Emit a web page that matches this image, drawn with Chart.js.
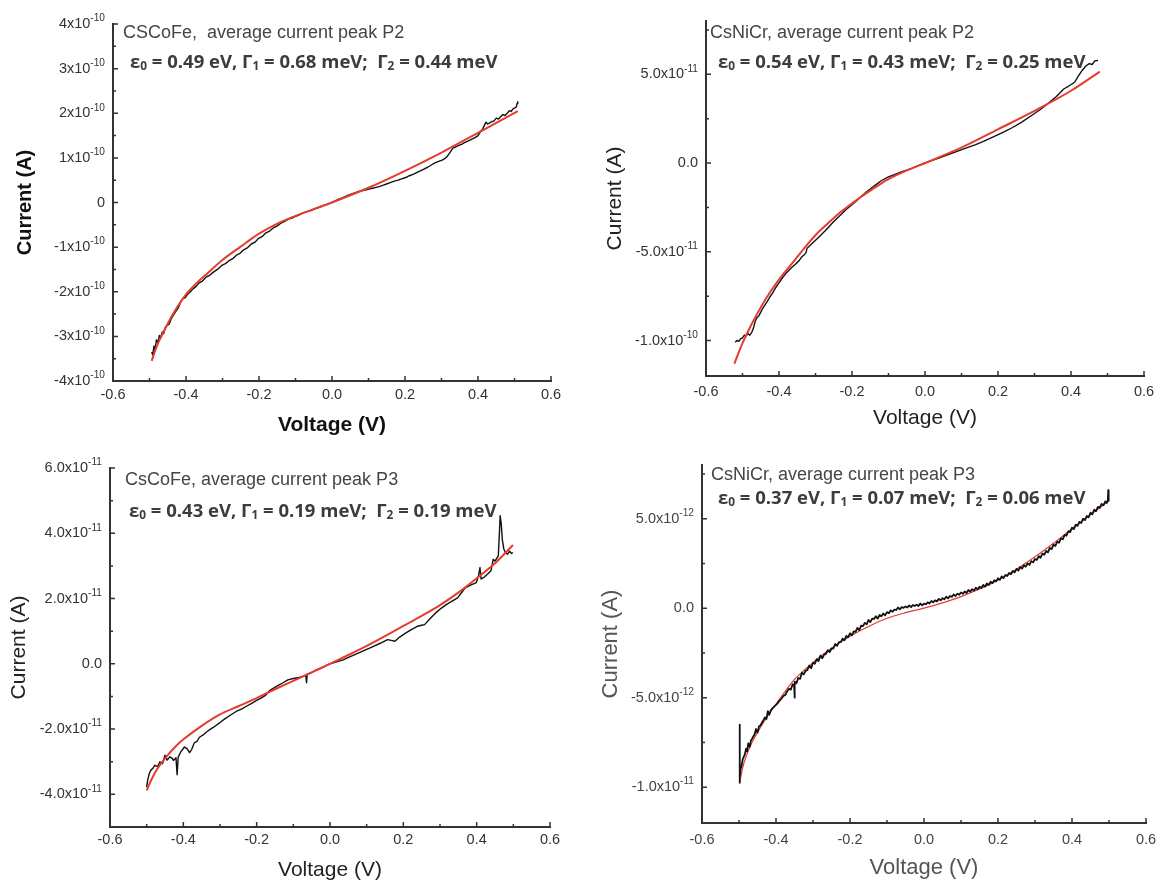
<!DOCTYPE html>
<html>
<head>
<meta charset="utf-8">
<title>Average current peaks - I/V fits</title>
<script src="https://cdn.jsdelivr.net/npm/chart.js@4.4.1/dist/chart.umd.min.js"></script>
<style>
  body { margin: 0; background: #fff; }
  #page { position: relative; width: 1158px; height: 881px; overflow: hidden; background: #fff; }
  .panel { position: absolute; }
</style>
</head>
<body>
<div id="page">
  <div class="panel" style="left:0;top:0;width:579px;height:440px"><canvas id="c1"></canvas></div>
  <div class="panel" style="left:579px;top:0;width:579px;height:440px"><canvas id="c2"></canvas></div>
  <div class="panel" style="left:0;top:440px;width:579px;height:441px"><canvas id="c3"></canvas></div>
  <div class="panel" style="left:579px;top:440px;width:579px;height:441px"><canvas id="c4"></canvas></div>
</div>
<script>
// voltage axis (same on every panel)
const xTicks = [-0.6, -0.4, -0.2, 0, 0.2, 0.4, 0.6];
const xTickLabels = ['-0.6', '-0.4', '-0.2', '0.0', '0.2', '0.4', '0.6'];
const xMinor = [-0.5, -0.3, -0.1, 0.1, 0.3, 0.5];

// ---- panel 1: CsCoFe, peak P2 (current in 1e-10 A) ----
const p1Unit = 1e-10;
const p1Measured = [
  [-0.494,-3.35],[-0.491,-3.42],[-0.488,-3.22],[-0.485,-3.30],[-0.481,-3.08],[-0.477,-3.14],[-0.473,-2.98],[-0.469,-3.02],
  [-0.465,-2.90],[-0.461,-2.94],[-0.457,-2.80],[-0.452,-2.76],[-0.446,-2.72],[-0.440,-2.60],[-0.434,-2.52],[-0.428,-2.44],
  [-0.421,-2.36],[-0.415,-2.24],[-0.409,-2.16],[-0.402,-2.13],[-0.395,-2.05],[-0.388,-2.00],[-0.380,-1.93],[-0.372,-1.88],
  [-0.364,-1.80],[-0.355,-1.76],[-0.346,-1.68],[-0.337,-1.64],[-0.325,-1.56],[-0.314,-1.50],[-0.302,-1.41],[-0.292,-1.37],
  [-0.283,-1.31],[-0.272,-1.26],[-0.262,-1.18],[-0.252,-1.14],[-0.242,-1.06],[-0.231,-1.01],[-0.221,-0.93],[-0.211,-0.89],
  [-0.202,-0.81],[-0.191,-0.76],[-0.181,-0.68],[-0.171,-0.64],[-0.161,-0.57],[-0.151,-0.53],[-0.141,-0.47],[-0.131,-0.43],
  [-0.121,-0.38],[-0.110,-0.35],[-0.100,-0.31],[-0.090,-0.28],[-0.080,-0.24],[-0.070,-0.21],[-0.060,-0.18],[-0.050,-0.15],
  [-0.040,-0.12],[-0.030,-0.09],[-0.020,-0.06],[-0.010,-0.03],[0.000,0.00],[0.010,0.04],[0.020,0.08],[0.030,0.11],
  [0.040,0.15],[0.050,0.18],[0.060,0.21],[0.070,0.24],[0.081,0.26],[0.091,0.28],[0.101,0.30],[0.111,0.32],
  [0.121,0.34],[0.131,0.36],[0.141,0.39],[0.151,0.42],[0.161,0.45],[0.171,0.48],[0.181,0.50],[0.191,0.53],
  [0.202,0.56],[0.212,0.60],[0.222,0.63],[0.232,0.67],[0.242,0.71],[0.252,0.75],[0.262,0.79],[0.272,0.84],
  [0.282,0.89],[0.292,0.92],[0.302,0.95],[0.312,1.00],[0.318,1.06],[0.323,1.12],[0.328,1.18],[0.333,1.23],
  [0.340,1.25],[0.348,1.28],[0.356,1.31],[0.363,1.34],[0.371,1.37],[0.378,1.40],[0.386,1.43],[0.393,1.46],
  [0.400,1.50],[0.404,1.55],[0.408,1.60],[0.413,1.65],[0.418,1.74],[0.422,1.80],[0.426,1.76],[0.431,1.78],
  [0.437,1.81],[0.444,1.83],[0.450,1.89],[0.456,1.87],[0.462,1.92],[0.468,1.97],[0.474,1.95],[0.480,2.00],
  [0.486,2.06],[0.491,2.04],[0.496,2.10],[0.501,2.12],[0.505,2.14],[0.507,2.22],[0.509,2.27]
];
const p1Fit = [
  [-0.494,-3.55],[-0.480,-3.22],[-0.464,-2.94],[-0.444,-2.62],[-0.424,-2.34],[-0.400,-2.06],[-0.370,-1.80],
  [-0.343,-1.60],[-0.302,-1.30],[-0.252,-1.00],[-0.202,-0.71],[-0.151,-0.48],[-0.100,-0.30],[-0.050,-0.15],
  [0.000,0.00],[0.100,0.33],[0.200,0.71],[0.300,1.12],[0.400,1.56],[0.509,2.05]
];
const p1YTicks = [-4e-10, -3e-10, -2e-10, -1e-10, 0, 1e-10, 2e-10, 3e-10, 4e-10];
const p1YLabels = ['-4x10^-10', '-3x10^-10', '-2x10^-10', '-1x10^-10', '0', '1x10^-10', '2x10^-10', '3x10^-10', '4x10^-10'];
const p1YMinor = [-3.5e-10, -2.5e-10, -1.5e-10, -0.5e-10, 0.5e-10, 1.5e-10, 2.5e-10, 3.5e-10];

// ---- panel 2: CsNiCr, peak P2 (current in 1e-11 A) ----
const p2Unit = 1e-11;
const p2Measured = [
  [-0.520,-10.10],[-0.515,-10.00],[-0.510,-10.05],[-0.505,-9.90],[-0.500,-9.85],[-0.495,-9.70],[-0.490,-9.75],[-0.485,-9.60],
  [-0.480,-9.70],[-0.475,-9.56],[-0.470,-9.30],[-0.465,-8.90],[-0.460,-8.70],[-0.455,-8.60],[-0.450,-8.40],[-0.445,-8.20],
  [-0.440,-8.05],[-0.432,-7.80],[-0.425,-7.55],[-0.418,-7.35],[-0.410,-7.05],[-0.400,-6.75],[-0.390,-6.45],[-0.378,-6.15],
  [-0.366,-5.90],[-0.355,-5.70],[-0.345,-5.50],[-0.338,-5.30],[-0.330,-5.15],[-0.326,-5.05],[-0.323,-4.80],[-0.315,-4.65],
  [-0.305,-4.45],[-0.297,-4.30],[-0.285,-4.05],[-0.270,-3.75],[-0.257,-3.45],[-0.245,-3.20],[-0.230,-2.90],[-0.216,-2.62],
  [-0.200,-2.35],[-0.185,-2.08],[-0.175,-1.89],[-0.160,-1.62],[-0.145,-1.38],[-0.135,-1.23],[-0.120,-1.00],[-0.100,-0.78],
  [-0.084,-0.66],[-0.065,-0.50],[-0.050,-0.40],[-0.033,-0.28],[-0.015,-0.12],[0.000,0.00],[0.020,0.15],[0.038,0.28],
  [0.060,0.45],[0.088,0.66],[0.110,0.82],[0.139,1.04],[0.160,1.22],[0.190,1.50],[0.215,1.74],[0.240,2.00],
  [0.265,2.30],[0.290,2.65],[0.315,3.00],[0.340,3.40],[0.360,3.75],[0.380,4.17],[0.395,4.35],[0.410,4.55],
  [0.420,4.90],[0.430,5.20],[0.440,5.45],[0.450,5.60],[0.458,5.55],[0.465,5.75],[0.474,5.78]
];
const p2Fit = [
  [-0.522,-11.30],[-0.510,-10.65],[-0.500,-10.15],[-0.480,-9.28],[-0.460,-8.50],[-0.435,-7.62],[-0.410,-6.85],
  [-0.385,-6.18],[-0.358,-5.50],[-0.330,-4.78],[-0.297,-4.00],[-0.265,-3.38],[-0.236,-2.84],[-0.205,-2.36],
  [-0.175,-1.90],[-0.140,-1.42],[-0.104,-0.95],[-0.050,-0.42],[0.000,0.00],[0.098,0.85],[0.200,1.90],
  [0.300,2.94],[0.400,4.07],[0.479,5.15]
];
const p2YTicks = [-1e-10, -5e-11, 0, 5e-11];
const p2YLabels = ['-1.0x10^-10', '-5.0x10^-11', '0.0', '5.0x10^-11'];
const p2YMinor = [-7.5e-11, -2.5e-11, 2.5e-11, 7.5e-11];

// ---- panel 3: CsCoFe, peak P3 (current in 1e-11 A) ----
const p3Unit = 1e-11;
const p3Measured = [
  [-0.500,-3.78],[-0.497,-3.55],[-0.493,-3.37],[-0.488,-3.25],[-0.483,-3.20],[-0.478,-3.11],[-0.470,-3.15],[-0.464,-3.00],
  [-0.457,-3.06],[-0.450,-2.80],[-0.444,-2.95],[-0.437,-2.85],[-0.430,-2.90],[-0.427,-2.96],[-0.420,-2.88],[-0.417,-3.40],
  [-0.414,-2.86],[-0.407,-2.70],[-0.397,-2.55],[-0.390,-2.60],[-0.383,-2.72],[-0.377,-2.62],[-0.370,-2.42],[-0.363,-2.38],
  [-0.356,-2.25],[-0.346,-2.18],[-0.336,-2.08],[-0.326,-2.00],[-0.316,-1.93],[-0.300,-1.80],[-0.286,-1.68],[-0.270,-1.56],
  [-0.256,-1.46],[-0.240,-1.38],[-0.228,-1.30],[-0.215,-1.22],[-0.200,-1.12],[-0.188,-1.05],[-0.175,-0.96],[-0.165,-0.82],
  [-0.155,-0.75],[-0.140,-0.65],[-0.128,-0.58],[-0.115,-0.49],[-0.100,-0.45],[-0.085,-0.42],[-0.075,-0.39],[-0.066,-0.35],
  [-0.064,-0.58],[-0.062,-0.32],[-0.054,-0.29],[-0.040,-0.20],[-0.024,-0.13],[-0.010,-0.05],[0.000,0.00],[0.018,0.06],
  [0.036,0.12],[0.055,0.22],[0.077,0.33],[0.097,0.43],[0.117,0.53],[0.137,0.63],[0.157,0.74],[0.167,0.72],
  [0.177,0.69],[0.190,0.82],[0.207,0.95],[0.222,1.05],[0.238,1.15],[0.250,1.18],[0.258,1.20],[0.270,1.35],
  [0.288,1.56],[0.303,1.70],[0.318,1.82],[0.333,1.92],[0.348,2.02],[0.360,2.20],[0.369,2.33],[0.385,2.42],
  [0.399,2.49],[0.405,2.70],[0.409,2.95],[0.412,2.60],[0.420,2.65],[0.430,2.75],[0.439,2.85],[0.445,3.20],
  [0.450,3.15],[0.459,3.31],[0.462,4.00],[0.464,4.54],[0.467,4.30],[0.470,3.80],[0.474,3.52],[0.479,3.40],
  [0.484,3.36],[0.490,3.45],[0.495,3.38],[0.499,3.41]
];
const p3Fit = [
  [-0.500,-3.88],[-0.485,-3.50],[-0.470,-3.20],[-0.447,-2.86],[-0.420,-2.52],[-0.397,-2.29],[-0.350,-1.90],
  [-0.300,-1.55],[-0.250,-1.30],[-0.200,-1.05],[-0.150,-0.78],[-0.100,-0.52],[-0.050,-0.26],[0.000,0.00],
  [0.050,0.27],[0.100,0.55],[0.150,0.85],[0.200,1.16],[0.250,1.47],[0.300,1.80],[0.350,2.18],[0.400,2.62],
  [0.450,3.08],[0.499,3.64]
];
const p3YTicks = [-4e-11, -2e-11, 0, 2e-11, 4e-11, 6e-11];
const p3YLabels = ['-4.0x10^-11', '-2.0x10^-11', '0.0', '2.0x10^-11', '4.0x10^-11', '6.0x10^-11'];
const p3YMinor = [-3e-11, -1e-11, 1e-11, 3e-11, 5e-11];

// ---- panel 4: CsNiCr, peak P3 (current in 1e-12 A) ----
const p4Unit = 1e-12;
const p4Measured = [
  [-0.498,-9.80],[-0.498,-6.50],[-0.498,-9.50],[-0.496,-9.00],[-0.493,-8.80],[-0.490,-8.45],[-0.487,-8.30],[-0.484,-8.15],
  [-0.481,-7.85],[-0.478,-8.00],[-0.475,-7.55],[-0.471,-7.75],[-0.468,-7.40],[-0.465,-7.30],[-0.461,-7.15],[-0.458,-7.05],
  [-0.454,-6.75],[-0.450,-6.95],[-0.446,-6.60],[-0.442,-6.55],[-0.438,-6.40],[-0.434,-6.25],[-0.430,-6.10],[-0.426,-6.20],
  [-0.422,-5.75],[-0.418,-5.95],[-0.414,-5.70],[-0.410,-5.60],[-0.405,-5.50],[-0.400,-5.40],[-0.395,-5.30],[-0.390,-5.15],
  [-0.385,-5.05],[-0.380,-4.90],[-0.375,-4.85],[-0.370,-4.65],[-0.365,-4.50],[-0.360,-4.55],[-0.355,-4.25],[-0.351,-4.35],
  [-0.350,-5.00],[-0.349,-4.10],[-0.345,-4.20],[-0.340,-3.90],[-0.335,-3.95],[-0.330,-3.60],[-0.325,-3.70],[-0.320,-3.50],
  [-0.315,-3.45],[-0.310,-3.20],[-0.305,-3.35],[-0.300,-3.05],[-0.295,-3.10],[-0.290,-2.85],[-0.285,-2.95],[-0.280,-2.65],
  [-0.275,-2.80],[-0.270,-2.60],[-0.265,-2.55],[-0.260,-2.35],[-0.255,-2.45],[-0.250,-2.25],[-0.245,-2.25],[-0.240,-2.00],
  [-0.235,-2.10],[-0.230,-1.90],[-0.225,-1.90],[-0.220,-1.70],[-0.215,-1.80],[-0.210,-1.55],[-0.205,-1.62],[-0.200,-1.40],
  [-0.195,-1.52],[-0.190,-1.30],[-0.185,-1.32],[-0.180,-1.10],[-0.175,-1.22],[-0.170,-0.98],[-0.165,-1.00],[-0.160,-0.82],
  [-0.155,-0.90],[-0.150,-0.66],[-0.145,-0.78],[-0.140,-0.58],[-0.135,-0.60],[-0.130,-0.45],[-0.125,-0.58],[-0.120,-0.38],
  [-0.115,-0.45],[-0.110,-0.30],[-0.105,-0.40],[-0.100,-0.22],[-0.095,-0.28],[-0.090,-0.12],[-0.085,-0.20],[-0.080,-0.08],
  [-0.075,-0.10],[-0.070,0.04],[-0.065,-0.06],[-0.060,0.06],[-0.055,0.02],[-0.050,0.10],[-0.045,0.04],[-0.040,0.16],
  [-0.035,0.06],[-0.030,0.18],[-0.025,0.12],[-0.020,0.20],[-0.015,0.12],[-0.010,0.26],[-0.005,0.16],[0.000,0.26],
  [0.005,0.22],[0.010,0.33],[0.015,0.26],[0.020,0.40],[0.025,0.33],[0.030,0.44],[0.035,0.38],[0.040,0.52],
  [0.045,0.44],[0.050,0.56],[0.055,0.50],[0.060,0.64],[0.065,0.55],[0.070,0.68],[0.075,0.63],[0.080,0.77],
  [0.085,0.68],[0.090,0.81],[0.095,0.75],[0.100,0.88],[0.105,0.80],[0.110,0.93],[0.115,0.85],[0.120,1.02],
  [0.125,0.92],[0.130,1.06],[0.135,0.98],[0.140,1.14],[0.145,1.05],[0.150,1.20],[0.155,1.13],[0.160,1.30],
  [0.165,1.20],[0.170,1.38],[0.175,1.30],[0.180,1.48],[0.185,1.40],[0.190,1.56],[0.195,1.50],[0.200,1.67],
  [0.205,1.58],[0.210,1.78],[0.215,1.68],[0.220,1.86],[0.225,1.80],[0.230,1.97],[0.235,1.90],[0.240,2.08],
  [0.245,2.00],[0.250,2.20],[0.255,2.10],[0.260,2.30],[0.265,2.21],[0.270,2.40],[0.275,2.32],[0.280,2.50],
  [0.285,2.42],[0.290,2.63],[0.295,2.56],[0.300,2.75],[0.305,2.70],[0.310,2.90],[0.315,2.82],[0.320,3.05],
  [0.325,2.98],[0.330,3.20],[0.335,3.12],[0.340,3.37],[0.345,3.30],[0.350,3.55],[0.355,3.48],[0.360,3.72],
  [0.365,3.66],[0.370,3.90],[0.375,3.85],[0.380,4.10],[0.385,4.05],[0.390,4.30],[0.395,4.25],[0.400,4.50],
  [0.405,4.42],[0.410,4.66],[0.415,4.60],[0.420,4.82],[0.425,4.76],[0.430,5.00],[0.435,4.92],[0.440,5.15],
  [0.445,5.08],[0.450,5.33],[0.455,5.25],[0.460,5.50],[0.465,5.42],[0.470,5.66],[0.475,5.60],[0.480,5.83],
  [0.485,5.75],[0.490,5.96],[0.494,5.88],[0.497,6.06],[0.498,6.60],[0.499,6.00]
];
const p4Fit = [
  [-0.498,-9.72],[-0.490,-8.90],[-0.480,-8.24],[-0.465,-7.50],[-0.450,-6.94],[-0.430,-6.25],[-0.410,-5.65],
  [-0.380,-4.78],[-0.350,-3.98],[-0.320,-3.40],[-0.280,-2.69],[-0.240,-2.10],[-0.200,-1.57],[-0.150,-1.02],
  [-0.100,-0.56],[-0.050,-0.25],[0.000,0.00],[0.050,0.30],[0.100,0.65],[0.150,1.07],[0.200,1.57],[0.250,2.18],
  [0.300,2.87],[0.350,3.63],[0.400,4.44],[0.450,5.22],[0.500,6.02]
];
const p4YTicks = [-1e-11, -5e-12, 0, 5e-12];
const p4YLabels = ['-1.0x10^-11', '-5.0x10^-12', '0.0', '5.0x10^-12'];
const p4YMinor = [-7.5e-12, -2.5e-12, 2.5e-12, 7.5e-12];

const SANS = '"Liberation Sans", Arial, sans-serif';
const BOLD_TEXT = '"Open Sans", "Noto Sans", sans-serif';
const RED = '#e63b2e';

function toPoints(arr, unit) {
  return arr.map(([v, i]) => ({ x: v, y: i * unit }));
}

// text with "_x" meaning subscript x
function drawRich(ctx, text, x, y, size) {
  let cx = x;
  for (let k = 0; k < text.length; k++) {
    let ch = text[k], sub = false;
    if (ch === '_') { sub = true; ch = text[++k]; }
    const s = sub ? size * 0.64 : size;
    ctx.font = `700 ${s}px ${BOLD_TEXT}`;
    ctx.fillText(ch, cx, sub ? y + size * 0.22 : y);
    cx += ctx.measureText(ch).width;
  }
}

// "4x10^-10" -> base + raised exponent, right aligned
function drawSupLabel(ctx, label, xRight, yMid, size) {
  const [base, exp] = label.split('^');
  const es = size * 0.7;
  ctx.font = `${size}px ${SANS}`;
  const wb = ctx.measureText(base).width;
  let we = 0;
  if (exp) { ctx.font = `${es}px ${SANS}`; we = ctx.measureText(exp).width; }
  const x0 = xRight - wb - we;
  ctx.font = `${size}px ${SANS}`;
  ctx.fillText(base, x0, yMid);
  if (exp) {
    ctx.font = `${es}px ${SANS}`;
    ctx.fillText(exp, x0 + wb, yMid - size * 0.38);
  }
}

// inward ticks, y labels and the two text lines in each panel
const decor = {
  id: 'decor',
  afterDraw(chart, args, o) {
    const { ctx, chartArea: a, scales: { x, y } } = chart;
    ctx.save();
    ctx.strokeStyle = '#333';
    ctx.lineWidth = 1.5;
    ctx.beginPath();
    xTicks.forEach(v => { const p = x.getPixelForValue(v); ctx.moveTo(p, a.bottom); ctx.lineTo(p, a.bottom - 5); });
    xMinor.forEach(v => { const p = x.getPixelForValue(v); ctx.moveTo(p, a.bottom); ctx.lineTo(p, a.bottom - 3); });
    o.yTicks.forEach(v => { const p = y.getPixelForValue(v); ctx.moveTo(a.left, p); ctx.lineTo(a.left + 5, p); });
    o.yMinor.forEach(v => { const p = y.getPixelForValue(v); ctx.moveTo(a.left, p); ctx.lineTo(a.left + 3, p); });
    ctx.stroke();

    ctx.fillStyle = o.tickColor;
    ctx.textBaseline = 'middle';
    ctx.textAlign = 'left';
    o.yTicks.forEach((v, i) => drawSupLabel(ctx, o.yLabels[i], a.left - 8, y.getPixelForValue(v), 14.5));

    ctx.fillStyle = '#454545';
    ctx.font = `18px ${SANS}`;
    ctx.fillText(o.title, o.titlePos[0], o.titlePos[1]);
    ctx.fillStyle = '#3c3c3c';
    drawRich(ctx, o.params, o.paramsPos[0], o.paramsPos[1], 18.5);
    ctx.restore();
  }
};

function makeChart(id, p) {
  return new Chart(document.getElementById(id), {
    type: 'line',
    data: { datasets: p.datasets },
    options: {
      responsive: true,
      maintainAspectRatio: false,
      animation: false,
      events: [],
      layout: { padding: { left: 0, top: p.top, right: p.right, bottom: 0 } },
      elements: { point: { radius: 0 } },
      plugins: {
        legend: { display: false },
        tooltip: { enabled: false },
        decor: {
          yTicks: p.yTicks, yLabels: p.yLabels, yMinor: p.yMinor, tickColor: p.tickColor,
          title: p.title, titlePos: p.titlePos, params: p.params, paramsPos: p.paramsPos
        }
      },
      scales: {
        x: {
          type: 'linear', min: -0.6, max: 0.6,
          afterBuildTicks: s => { s.ticks = xTicks.map(v => ({ value: v })); },
          afterFit: s => { s.height = p.xHeight; s.paddingLeft = 0; s.paddingRight = 0; },
          grid: { display: false, drawTicks: false },
          border: { display: true, color: '#333', width: 2 },
          ticks: {
            autoSkip: false, maxRotation: 0, padding: p.xPad, color: p.tickColor,
            font: { family: SANS, size: 14.5 },
            callback: (v, i) => xTickLabels[i]
          },
          title: {
            display: true, text: 'Voltage (V)', color: p.titleColor,
            font: { family: SANS, size: p.xTitleSize, weight: p.titleWeight, lineHeight: 1 },
            padding: { top: 0, bottom: p.xTitlePad }
          }
        },
        y: {
          type: 'linear', min: p.yMin, max: p.yMax,
          afterBuildTicks: s => { s.ticks = p.yTicks.map(v => ({ value: v })); },
          afterFit: s => { s.width = p.yWidth; s.paddingTop = 0; s.paddingBottom = 0; },
          grid: { display: false, drawTicks: false },
          border: { display: true, color: '#333', width: 2 },
          ticks: { display: false },
          title: {
            display: true, text: 'Current (A)', color: p.titleColor,
            font: { family: SANS, size: p.yTitleSize, weight: p.titleWeight, lineHeight: 1 },
            padding: { top: p.yTitlePad, bottom: 0 }
          }
        }
      }
    },
    plugins: [decor]
  });
}

function measuredSet(arr, unit, width) {
  return { data: toPoints(arr, unit), borderColor: '#111', borderWidth: width, tension: 0,
           borderJoinStyle: 'round', fill: false };
}
function fitSet(arr, unit, width) {
  return { data: toPoints(arr, unit), borderColor: RED, borderWidth: width,
           cubicInterpolationMode: 'monotone', fill: false };
}

makeChart('c1', {
  datasets: [fitSet(p1Fit, p1Unit, 2), measuredSet(p1Measured, p1Unit, 1.4)],
  yMin: -4e-10, yMax: 4e-10, yTicks: p1YTicks, yLabels: p1YLabels, yMinor: p1YMinor,
  top: 24, right: 28, yWidth: 113, xHeight: 59, xPad: 5,
  xTitleSize: 21, yTitleSize: 20, titleWeight: 'bold', titleColor: '#111', tickColor: '#333',
  xTitlePad: 4.5, yTitlePad: 15,
  title: 'CSCoFe,  average current peak P2', titlePos: [123, 33],
  params: 'ε_0 = 0.49 eV, Γ_1 = 0.68 meV;  Γ_2 = 0.44 meV', paramsPos: [130, 63]
});

makeChart('c2', {
  datasets: [fitSet(p2Fit, p2Unit, 2), measuredSet(p2Measured, p2Unit, 1.4)],
  yMin: -1.2e-10, yMax: 8e-11, yTicks: p2YTicks, yLabels: p2YLabels, yMinor: p2YMinor,
  top: 21, right: 14, yWidth: 127, xHeight: 64, xPad: 7,
  xTitleSize: 21, yTitleSize: 21, titleWeight: 'normal', titleColor: '#222', tickColor: '#333',
  xTitlePad: 11.5, yTitlePad: 25.5,
  title: 'CsNiCr, average current peak P2', titlePos: [131, 33],
  params: 'ε_0 = 0.54 eV, Γ_1 = 0.43 meV;  Γ_2 = 0.25 meV', paramsPos: [139, 63]
});

makeChart('c3', {
  datasets: [fitSet(p3Fit, p3Unit, 2), measuredSet(p3Measured, p3Unit, 1.4)],
  yMin: -5e-11, yMax: 6e-11, yTicks: p3YTicks, yLabels: p3YLabels, yMinor: p3YMinor,
  top: 28, right: 29, yWidth: 110, xHeight: 54, xPad: 4,
  xTitleSize: 21, yTitleSize: 21, titleWeight: 'normal', titleColor: '#222', tickColor: '#333',
  xTitlePad: 0.5, yTitlePad: 8.5,
  title: 'CsCoFe, average current peak P3', titlePos: [125, 40],
  params: 'ε_0 = 0.43 eV, Γ_1 = 0.19 meV;  Γ_2 = 0.19 meV', paramsPos: [129, 72]
});

makeChart('c4', {
  datasets: [measuredSet(p4Measured, p4Unit, 1.8), fitSet(p4Fit, p4Unit, 1.2)],
  yMin: -1.2e-11, yMax: 8e-12, yTicks: p4YTicks, yLabels: p4YLabels, yMinor: p4YMinor,
  top: 25, right: 12, yWidth: 123, xHeight: 58, xPad: 8,
  xTitleSize: 22, yTitleSize: 22, titleWeight: 'normal', titleColor: '#555', tickColor: '#444',
  xTitlePad: 2, yTitlePad: 21,
  title: 'CsNiCr, average current peak P3', titlePos: [132, 35],
  params: 'ε_0 = 0.37 eV, Γ_1 = 0.07 meV;  Γ_2 = 0.06 meV', paramsPos: [139, 59]
});
</script>
</body>
</html>
